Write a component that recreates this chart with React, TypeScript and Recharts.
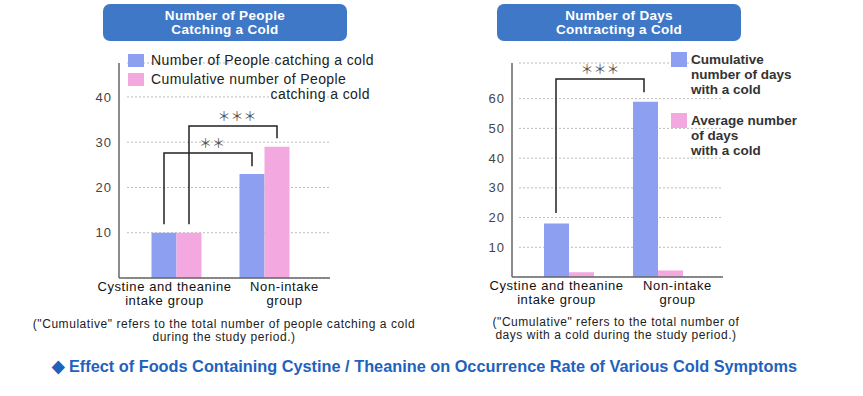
import { BarChart, Bar, XAxis, YAxis, CartesianGrid } from "recharts";

// categories shared by both panels
const groups = ["Cystine and theanine\nintake group", "Non-intake\ngroup"];

// left panel: number of people
const peopleCount = [10, 23];
const peopleCumulative = [10, 29];
const peopleTicks = [10, 20, 30, 40];

// right panel: number of days
const daysCumulative = [18, 59];
const daysAverage = [1.6, 2.2];
const daysTicks = [10, 20, 30, 40, 50, 60];

const BLUE = "#8c9ff0";
const PINK = "#f3a9df";
const FONT = "'Liberation Sans', Arial, sans-serif";

const peopleData = groups.map((g, i) => ({ name: g, count: peopleCount[i], cumulative: peopleCumulative[i] }));
const daysData = groups.map((g, i) => ({ name: g, cumulative: daysCumulative[i], average: daysAverage[i] }));

// label offsets relative to the group centre (labels in the original sit a bit off-centre)
const labelShift = [-12, 20];

function GroupTick(props: any) {
  const { x, y, payload, index } = props;
  const lines = String(payload.value).split("\n");
  return (
    <g transform={`translate(${x + labelShift[index]},${y})`}>
      {lines.map((l, i) => (
        <text key={i} x={0} y={5 + i * 14} textAnchor="middle" fontSize={13} fill="#111"
          fontFamily={FONT} letterSpacing={0.6}>
          {l}
        </text>
      ))}
    </g>
  );
}

function TitleBox({ left, lines }: { left: number; lines: string[] }) {
  return (
    <div style={{
      position: "absolute", left, top: 4, width: 244, height: 37, background: "#3f78c6",
      borderRadius: 7, color: "#fff", fontFamily: FONT, fontWeight: "bold", fontSize: 13.5,
      letterSpacing: 0.3, lineHeight: "14px", textAlign: "center", display: "flex", flexDirection: "column",
      justifyContent: "center"
    }}>
      {lines.map((l) => <div key={l}>{l}</div>)}
    </div>
  );
}

function Bracket({ x1, x2, top, y1, y2, stars, starX }: any) {
  return (
    <g>
      <polyline points={`${x1},${y1} ${x1},${top} ${x2},${top} ${x2},${y2}`} fill="none" stroke="#222" strokeWidth={1.5} />
      <text x={starX} y={top - 5} textAnchor="middle" fontSize={13} fill="#555"
        fontFamily="'Noto Sans CJK JP', sans-serif">{stars}</text>
    </g>
  );
}

const LeftLegend = () => (
  <div style={{ position: "absolute", left: 128, top: 53, width: 260, fontFamily: FONT, fontSize: 14, letterSpacing: 0.4, color: "#222", lineHeight: "15px" }}>
    <div style={{ display: "flex", alignItems: "center", marginBottom: 4 }}>
      <span style={{ width: 16, height: 13, background: BLUE, marginRight: 7 }} />
      Number of People catching a cold
    </div>
    <div style={{ display: "flex" }}>
      <span style={{ width: 16, height: 13, background: PINK, marginRight: 7, marginTop: 1 }} />
      <div style={{ width: 219 }}>
        <div>Cumulative number of People</div>
        <div style={{ textAlign: "right" }}>catching a cold</div>
      </div>
    </div>
  </div>
);

const RightLegend = () => (
  <div style={{ position: "absolute", left: 671, top: 52, width: 130, fontFamily: FONT, fontSize: 13.5, fontWeight: "bold", color: "#333", lineHeight: "15px" }}>
    <div style={{ display: "flex", marginBottom: 16 }}>
      <span style={{ width: 16, height: 15, background: BLUE, marginRight: 4, flexShrink: 0 }} />
      <div>Cumulative<br />number of days<br />with a cold</div>
    </div>
    <div style={{ display: "flex" }}>
      <span style={{ width: 16, height: 15, background: PINK, marginRight: 4, flexShrink: 0 }} />
      <div>Average number<br />of days<br />with a cold</div>
    </div>
  </div>
);

const noteStyle: any = {
  position: "absolute", textAlign: "center", fontFamily: FONT,
  fontSize: 12, lineHeight: "12.5px", color: "#222", letterSpacing: 0.55
};

export default function App() {
  // plot geometry used for the significance brackets
  const lTop = 63, lBottom = 278, lMax = 47.5;
  const ly = (v: number) => lTop + (1 - v / lMax) * (lBottom - lTop);
  const lStart = 132.5, lBand = 88;
  const lx = (g: number, s: number) => lStart + lBand * (g + 0.5) + (s - 0.5) * 25;

  const rTop = 63, rBottom = 277, rMax = 72;
  const ry = (v: number) => rTop + (1 - v / rMax) * (rBottom - rTop);
  const rStart = 524, rBand = 89;
  const rx = (g: number, s: number) => rStart + rBand * (g + 0.5) + (s - 0.5) * 25;

  return (
    <div style={{ position: "absolute", left: 0, top: 0, width: 863, height: 396, background: "#fff", overflow: "hidden" }}>
      <TitleBox left={103} lines={["Number of People", "Catching a Cold"]} />
      <TitleBox left={497} lines={["Number of Days", "Contracting a Cold"]} />

      <div style={{ position: "absolute", left: 0, top: 0 }}>
        <BarChart width={400} height={320} data={peopleData} barGap={0} barSize={25}
          margin={{ top: 63, right: 70, left: 89, bottom: 2 }}>
          <CartesianGrid vertical={false} stroke="#bbb" strokeDasharray="2 2" x={127} width={203} />
          <XAxis dataKey="name" height={40} interval={0} tick={<GroupTick />} tickLine={false}
            axisLine={{ stroke: "#666", strokeWidth: 1.5 }} padding={{ left: 13.5, right: 21.5 }} />
          <YAxis width={30} domain={[0, lMax]} ticks={peopleTicks} tickLine={false} tickSize={0} tickMargin={7}
            axisLine={{ stroke: "#666", strokeWidth: 1.5 }}
            tick={{ fontSize: 13, fill: "#444", fontFamily: FONT, letterSpacing: 1 }} />
          <Bar dataKey="count" fill={BLUE} isAnimationActive={false} />
          <Bar dataKey="cumulative" fill={PINK} isAnimationActive={false} />
        </BarChart>
      </div>

      <div style={{ position: "absolute", left: 400, top: 0 }}>
        <BarChart width={400} height={320} data={daysData} barGap={0} barSize={25}
          margin={{ top: 63, right: 77, left: 82, bottom: 3 }}>
          <CartesianGrid vertical={false} stroke="#bbb" strokeDasharray="2 2" x={119} width={204} />
          <XAxis dataKey="name" height={40} interval={0} tick={<GroupTick />} tickLine={false}
            axisLine={{ stroke: "#666", strokeWidth: 1.5 }} padding={{ left: 12, right: 21 }} />
          <YAxis width={30} domain={[0, rMax]} ticks={daysTicks} tickLine={false} tickSize={0} tickMargin={7}
            axisLine={{ stroke: "#666", strokeWidth: 1.5 }}
            tick={{ fontSize: 13, fill: "#444", fontFamily: FONT, letterSpacing: 1 }} />
          <Bar dataKey="cumulative" fill={BLUE} isAnimationActive={false} />
          <Bar dataKey="average" fill={PINK} isAnimationActive={false} />
        </BarChart>
      </div>

      <LeftLegend />
      <RightLegend />

      <svg width={863} height={396} style={{ position: "absolute", left: 0, top: 0, pointerEvents: "none" }}>
        <Bracket x1={lx(0, 0)} x2={lx(1, 0)} top={ly(27.6)} y1={ly(11.9)} y2={ly(24.7)} stars="＊＊" starX={212} />
        <Bracket x1={lx(0, 1)} x2={lx(1, 1)} top={ly(33.6)} y1={ly(11.9)} y2={ly(30.9)} stars="＊＊＊" starX={237} />
        <Bracket x1={rx(0, 0)} x2={rx(1, 0) - 1} top={ry(66.6)} y1={ry(21.5)} y2={ry(62.2)} stars="＊＊＊" starX={600} />
      </svg>

      <div style={{ ...noteStyle, left: 14, top: 318, width: 420 }}>
        (&quot;Cumulative&quot; refers to the total number of people catching a cold<br />during the study period.)
      </div>
      <div style={{ ...noteStyle, left: 476, top: 316, width: 280 }}>
        (&quot;Cumulative&quot; refers to the total number of<br />days with a cold during the study period.)
      </div>

      <svg width={863} height={30} style={{ position: "absolute", left: 0, top: 354 }}>
        <text x={52} y={18} textLength={745} lengthAdjust="spacingAndGlyphs" fontSize={17} fontWeight="bold"
          fill="#1f62bd" fontFamily={FONT}>
          ◆ Effect of Foods Containing Cystine / Theanine on Occurrence Rate of Various Cold Symptoms
        </text>
      </svg>
    </div>
  );
}
